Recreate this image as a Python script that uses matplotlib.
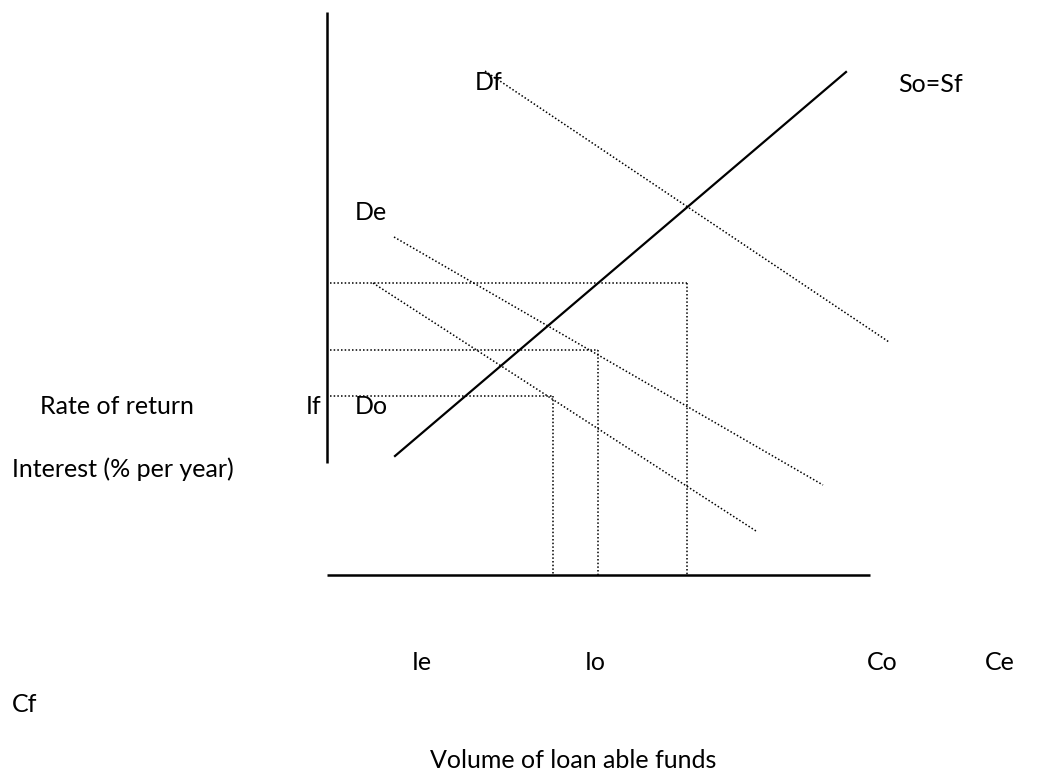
import matplotlib
matplotlib.use("Agg")
import matplotlib.pyplot as plt

plt.rcParams['font.family'] = ['Lato', 'DejaVu Sans']

# diagram space: x = volume of funds, y = rate (measured top-down, page units)
axis_y = [(327, 12), (327, 463)]
axis_x = [(327, 575), (870, 575)]

supply_x = [395, 846]
supply_y = [456, 72]

demand_names = ["Df", "De", "Do"]
demand_x = [[485, 889], [394, 823], [373, 756]]
demand_y = [[71, 342], [237, 485], [283, 531]]

# equilibrium guides (rate level, volume level)
guide_rate = [283, 350, 396]
guide_vol = [687, 598, 553]

labels = [
    ("Df", 475, 83),
    ("So=Sf", 898, 84),
    ("De", 355, 213),
    ("Rate of return", 40, 406),
    ("If", 306, 406),
    ("Do", 355, 406),
    ("Interest (% per year)", 12, 469),
    ("Ie", 412, 662),
    ("Io", 585, 662),
    ("Co", 867, 662),
    ("Ce", 985, 662),
    ("Cf", 12, 705),
    ("Volume of loan able funds", 430, 760),
]

fig = plt.figure(figsize=(10.6, 7.74), dpi=100)
ax = fig.add_axes([0, 0, 1, 1])
ax.set_xlim(0, 1060)
ax.set_ylim(774, 0)
ax.axis('off')

for seg in (axis_y, axis_x):
    ax.plot([p[0] for p in seg], [p[1] for p in seg], color='black', lw=1.8,
            solid_capstyle='butt')

ax.plot(supply_x, supply_y, color='black', lw=1.6)

dots = (0, (1, 1.4))
for xs, ys in zip(demand_x, demand_y):
    ax.plot(xs, ys, color='black', lw=1.1, linestyle=dots)

for r, v in zip(guide_rate, guide_vol):
    ax.plot([330, v], [r, r], color='black', lw=1.1, linestyle=dots)
    ax.plot([v, v], [r, axis_x[0][1]], color='black', lw=1.1, linestyle=dots)

for txt, x, y in labels:
    ax.text(x, y, txt, fontsize=18, ha='left', va='center', color='black')

fig.savefig("out.png", dpi=100, facecolor='white')
